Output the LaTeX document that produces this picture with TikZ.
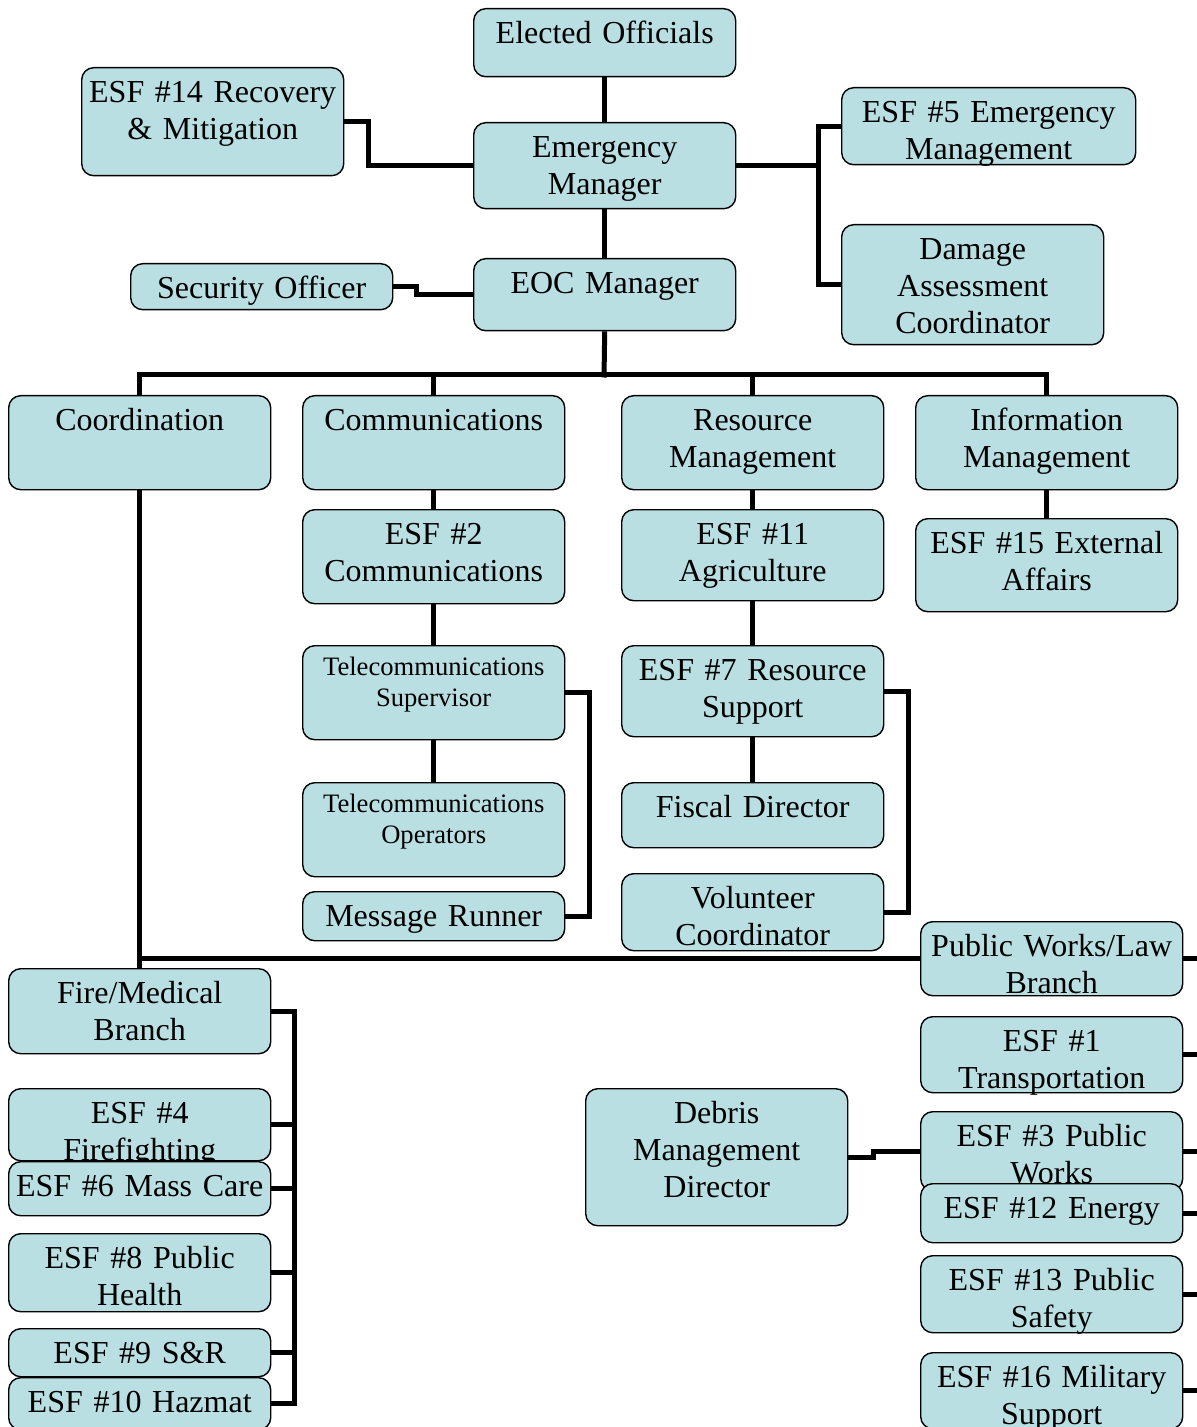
\documentclass[tikz,border=0pt]{standalone}
\usepackage{fontspec}
\setmainfont{Liberation Serif}
\definecolor{boxblue}{RGB}{185,223,227}

\tikzset{
  org/.style={draw=black, fill=boxblue, rounded corners=6pt, line width=0.7pt,
    anchor=north west, inner xsep=0pt, inner ysep=0pt, text width=131pt,
    align=center, text height=17.5pt, font=\fontsize{16}{18.5}\selectfont},
  small/.style={text height=15pt, font=\fontsize{13.3}{15.5}\selectfont},
  link/.style={line width=2.5pt, line join=miter}
}

\begin{document}
\begin{tikzpicture}[x=0.5pt, y=-0.5pt]
  \useasboundingbox (0,0) rectangle (1196,1427);

  % command staff
  \node[org, text depth=16.5pt] (elected) at (473,8) {Elected Officials};
  \node[org, text depth=36.5pt] (esf14) at (81,67) {ESF \#14 Recovery\\ \& Mitigation};
  \node[org, text depth=25.5pt] (em) at (473,122) {Emergency\\ Manager};
  \node[org, text depth=21pt, text width=147pt] (esf5) at (841,87) {ESF \#5 Emergency\\ Management};
  \node[org, text depth=42.5pt] (damage) at (841,224) {Damage\\ Assessment\\ Coordinator};
  \node[org, text depth=5.5pt] (security) at (130,263) {Security Officer};
  \node[org, text depth=18.5pt] (eoc) at (473,258) {EOC Manager};

  % sections
  \node[org, text depth=29.5pt] (coord) at (8,395) {Coordination};
  \node[org, text depth=29.5pt] (comm) at (302,395) {Communications};
  \node[org, text depth=29.5pt] (resmgmt) at (621,395) {Resource\\ Management};
  \node[org, text depth=29.5pt] (infomgmt) at (915,395) {Information\\ Management};

  \node[org, text depth=29.5pt] (esf2) at (302,509) {ESF \#2\\ Communications};
  \node[org, small, text depth=32pt] (telsup) at (302,645) {Telecommunications\\ Supervisor};
  \node[org, small, text depth=32pt] (telop) at (302,782) {Telecommunications\\ Operators};
  \node[org, text depth=7pt] (runner) at (302,891) {Message Runner};

  \node[org, text depth=28pt] (esf11) at (621,509) {ESF \#11\\ Agriculture};
  \node[org, text depth=28pt] (esf7) at (621,645) {ESF \#7 Resource\\ Support};
  \node[org, text depth=15pt] (fiscal) at (621,782) {Fiscal Director};
  \node[org, text depth=21pt] (volunteer) at (621,873) {Volunteer\\ Coordinator};

  \node[org, text depth=29pt] (esf15) at (915,518) {ESF \#15 External\\ Affairs};

  % branches
  \node[org, text depth=25pt] (fire) at (8,968) {Fire/Medical\\ Branch};
  \node[org, text depth=18.5pt] (esf4) at (8,1088) {ESF \#4\\ Firefighting};
  \node[org, text depth=9.5pt] (esf6) at (8,1161) {ESF \#6 Mass Care};
  \node[org, text depth=21.5pt] (esf8) at (8,1233) {ESF \#8 Public\\ Health};
  \node[org, text depth=6.5pt] (esf9) at (8,1328) {ESF \#9 S\&R};
  \node[org, text depth=8.5pt] (esf10) at (8,1377) {ESF \#10 Hazmat};

  \node[org, text depth=51pt] (debris) at (585,1088) {Debris\\ Management\\ Director};

  \node[org, text depth=19.5pt] (pw) at (920,921) {Public Works/Law\\ Branch};
  \node[org, text depth=20.5pt] (esf1) at (920,1016) {ESF \#1\\ Transportation};
  \node[org, text depth=22pt] (esf3) at (920,1111) {ESF \#3 Public\\ Works};
  \node[org, text depth=12pt] (esf12) at (920,1183) {ESF \#12 Energy};
  \node[org, text depth=21pt] (esf13) at (920,1255) {ESF \#13 Public\\ Safety};
  \node[org, text depth=20.5pt] (esf16) at (920,1352) {ESF \#16 Military\\ Support};

  \coordinate (bus) at (604,375);
  \coordinate (rspine) at (818,0);
  \coordinate (redge) at (1200,0);

  % connectors
  \draw[link] (elected.south) -- (em.north);
  \draw[link] (em.south) -- (eoc.north);
  \draw[link] (esf14.east) -- ++(24,0) |- (em.west);
  \draw[link] (security.east) -- ++(23,0) |- (eoc.west);
  \draw[link] (em.east) -- (em.east -| rspine);
  \draw[link] (esf5.west) -- (esf5.west -| rspine) |- (damage.west);

  \draw[link] (eoc.south) -- ([yshift=-1.25pt]bus);
  \draw[link] (coord.north) |- (infomgmt.north |- bus) -- (infomgmt.north);
  \foreach \n in {comm, resmgmt}
    \draw[link] (\n.north) -- (\n.north |- bus);

  \draw[link] (comm.south) -- (esf2.north);
  \draw[link] (esf2.south) -- (telsup.north);
  \draw[link] (telsup.south) -- (telop.north);
  \draw[link] (telsup.east) -- ++(24,0) |- (runner.east);

  \draw[link] (resmgmt.south) -- (esf11.north);
  \draw[link] (esf11.south) -- (esf7.north);
  \draw[link] (esf7.south) -- (fiscal.north);
  \draw[link] (esf7.east) -- ++(24,0) |- (volunteer.east);

  \draw[link] (infomgmt.south) -- (esf15.north);

  \draw[link] (coord.south) -- (fire.north);
  \draw[link] (pw.west) -| (coord.south);

  \draw[link] (fire.east) -- ++(23,0) coordinate (lspine) |- (esf10.east);
  \foreach \n in {esf4, esf6, esf8, esf9}
    \draw[link] (\n.east) -- (\n.east -| lspine);

  \draw[link] (debris.east) -- ++(25,0) |- (esf3.west);
  \foreach \n in {pw, esf1, esf3, esf12, esf13, esf16}
    \draw[link] (\n.east) -- (\n.east -| redge);
\end{tikzpicture}
\end{document}
